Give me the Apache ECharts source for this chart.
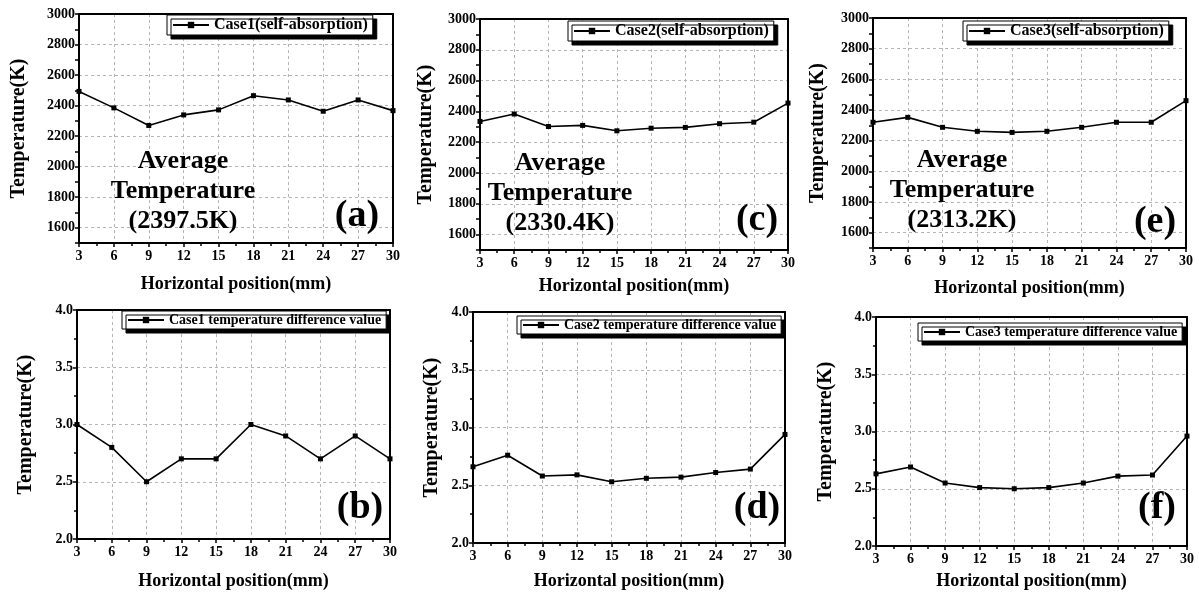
<!DOCTYPE html>
<html><head><meta charset="utf-8">
<script src="https://cdn.jsdelivr.net/npm/echarts@6/dist/echarts.min.js"></script>
<style>html,body{margin:0;padding:0;background:#fff}#c{width:1199px;height:595px}</style>
</head><body><div id="c"></div>
<script>
// ---- data ----
const positions = [3, 6, 9, 12, 15, 18, 21, 24, 27, 30];
const case1Temp = [2493, 2385, 2270, 2339, 2372, 2465, 2437, 2363, 2437, 2367];
const case2Temp = [2335, 2383, 2302, 2309, 2274, 2291, 2296, 2320, 2330, 2454];
const case3Temp = [2320, 2352, 2287, 2261, 2254, 2261, 2287, 2320, 2320, 2461];
const case1Diff = [3.0, 2.8, 2.5, 2.7, 2.7, 3.0, 2.9, 2.7, 2.9, 2.7];
const case2Diff = [2.66, 2.76, 2.58, 2.59, 2.53, 2.56, 2.57, 2.61, 2.64, 2.94];
const case3Diff = [2.63, 2.69, 2.55, 2.51, 2.50, 2.51, 2.55, 2.61, 2.62, 2.96];
const tempTickLabels = [1600, 1800, 2000, 2200, 2400, 2600, 2800, 3000];
const diffTickLabels = [2.0, 2.5, 3.0, 3.5, 4.0];
const seriesNames = ['Case1(self-absorption)', 'Case2(self-absorption)', 'Case3(self-absorption)',
  'Case1 temperature difference value', 'Case2 temperature difference value', 'Case3 temperature difference value'];
const averages = ['2397.5K', '2330.4K', '2313.2K'];
const panelTags = ['(a)', '(c)', '(e)', '(b)', '(d)', '(f)'];
const xName = 'Horizontal position(mm)';
const yName = 'Temperature(K)';

// ---- layout ----
const FF = '"Liberation Serif", "DejaVu Serif", serif';
const panels = [
  {values: case1Temp, kind: 'temp', grid: {left: 79, top: 14, width: 314, height: 229}, xGap: 32, yGap: 50,
   legend: {left: 167, top: 15}, legendFont: 16, tag: {x: 357, y: 216}, avg: {x: 183, y: 191}},
  {values: case2Temp, kind: 'temp', grid: {left: 480, top: 19, width: 308, height: 231}, xGap: 27, yGap: 44,
   legend: {left: 568, top: 21}, legendFont: 16, tag: {x: 757, y: 220}, avg: {x: 560, y: 193}},
  {values: case3Temp, kind: 'temp', grid: {left: 873, top: 18, width: 313, height: 230}, xGap: 31, yGap: 45,
   legend: {left: 963, top: 21}, legendFont: 16, tag: {x: 1155, y: 222}, avg: {x: 962, y: 190}},
  {values: case1Diff, kind: 'diff', grid: {left: 77, top: 310, width: 313, height: 229}, xGap: 33, yGap: 41,
   legend: {left: 122, top: 311}, legendFont: 14, tag: {x: 360, y: 508}},
  {values: case2Diff, kind: 'diff', grid: {left: 473, top: 312, width: 312, height: 231}, xGap: 29, yGap: 31,
   legend: {left: 517, top: 316}, legendFont: 14, tag: {x: 757, y: 508}},
  {values: case3Diff, kind: 'diff', grid: {left: 876, top: 317, width: 311, height: 229}, xGap: 26, yGap: 40,
   legend: {left: 918, top: 323}, legendFont: 14, tag: {x: 1157, y: 508}}
];

const grids = [], xAxes = [], yAxes = [], series = [], legends = [], graphics = [];
const gridLine = {show: true, lineStyle: {type: [3, 3], color: '#b5b5b5', width: 1}};
const frameAxis = (extra) => Object.assign({
  type: 'value', axisLine: {show: true, onZero: false, lineStyle: {color: '#000', width: 2}},
  axisTick: {show: false}, axisLabel: {show: false}, splitLine: {show: false}, z: 5
}, extra);
panels.forEach((p, i) => {
  grids.push(Object.assign({show: false}, p.grid));
  xAxes.push({
    type: 'value', gridIndex: i, min: 3, max: 30, interval: 3,
    name: xName, nameLocation: 'middle', nameGap: p.xGap,
    nameTextStyle: {fontFamily: FF, fontWeight: 'bold', fontSize: 18, color: '#000'},
    axisLine: {show: true, onZero: false, lineStyle: {color: '#000', width: 2}},
    axisTick: {show: true, inside: false, length: 4, lineStyle: {color: '#000', width: 1.5}},
    minorTick: {show: true, splitNumber: 2, length: 3, lineStyle: {color: '#000', width: 1.5}},
    axisLabel: {fontFamily: FF, fontWeight: 'bold', fontSize: 14, color: '#000', margin: 6},
    splitLine: gridLine
  });
  if (p.kind === 'temp') {
    yAxes.push({
      type: 'value', gridIndex: i, min: 1500, max: 3000, interval: 100,
      name: yName, nameLocation: 'middle', nameGap: p.yGap,
      nameTextStyle: {fontFamily: FF, fontWeight: 'bold', fontSize: 20, color: '#000'},
      axisLine: {show: true, lineStyle: {color: '#000', width: 2}},
      axisTick: {show: true, length: 4, lineStyle: {color: '#000', width: 1.5}},
      axisLabel: {fontFamily: FF, fontWeight: 'bold', fontSize: 14, color: '#000', margin: 4,
        formatter: v => tempTickLabels.includes(v) ? String(v) : ''},
      splitLine: {show: true, lineStyle: {type: [3, 3], color: ['rgba(0,0,0,0)', '#b5b5b5'], width: 1}}
    });
    yAxes.push(frameAxis({gridIndex: i, position: 'right', min: 1500, max: 3000}));
  } else {
    yAxes.push({
      type: 'value', gridIndex: i, min: 2, max: 4, interval: 0.5,
      name: yName, nameLocation: 'middle', nameGap: p.yGap,
      nameTextStyle: {fontFamily: FF, fontWeight: 'bold', fontSize: 20, color: '#000'},
      axisLine: {show: true, lineStyle: {color: '#000', width: 2}},
      axisTick: {show: true, length: 4, lineStyle: {color: '#000', width: 1.5}},
      minorTick: {show: true, splitNumber: 2, length: 3, lineStyle: {color: '#000', width: 1.5}},
      axisLabel: {fontFamily: FF, fontWeight: 'bold', fontSize: 14, color: '#000', margin: 4,
        formatter: v => diffTickLabels.includes(v) ? v.toFixed(1) : ''},
      splitLine: gridLine
    });
    yAxes.push(frameAxis({gridIndex: i, position: 'right', min: 2, max: 4}));
  }
  xAxes.push(frameAxis({gridIndex: i, position: 'top', min: 3, max: 30}));
  series.push({
    name: seriesNames[i], type: 'line', xAxisIndex: 2 * i, yAxisIndex: 2 * i,
    data: positions.map((x, k) => [x, p.values[k]]),
    symbol: 'rect', symbolSize: 5, showSymbol: true,
    lineStyle: {color: '#000', width: 1.6}, itemStyle: {color: '#000'},
    animation: false, clip: false, z: 6
  });
  legends.push({
    data: [seriesNames[i]], left: p.legend.left, top: p.legend.top,
    orient: 'horizontal', itemWidth: 36, itemHeight: 8, itemGap: 4,
    padding: [2, 5, 2, 5], backgroundColor: '#fff', borderColor: '#000', borderWidth: 1,
    shadowColor: '#000', shadowBlur: 0, shadowOffsetX: 4, shadowOffsetY: 4,
    textStyle: {fontFamily: FF, fontWeight: 'bold', fontSize: p.legendFont, color: '#000'},
    selectedMode: false
  });
  graphics.push({
    type: 'text', x: p.tag.x, y: p.tag.y, z: 10,
    style: {text: panelTags[i], fontFamily: FF, fontWeight: 'bold', fontSize: 38, fill: '#000',
      align: 'center', verticalAlign: 'middle'}
  });
  if (p.avg) {
    graphics.push({
      type: 'text', x: p.avg.x, y: p.avg.y, z: 10,
      style: {text: 'Average\nTemperature\n(' + averages[i] + ')', fontFamily: FF, fontWeight: 'bold',
        fontSize: 26, lineHeight: 30, fill: '#000', align: 'center', verticalAlign: 'middle'}
    });
  }
});

const chart = echarts.init(document.getElementById('c'), null, {renderer: 'canvas'});
chart.setOption({
  animation: false, backgroundColor: '#fff',
  grid: grids, xAxis: xAxes, yAxis: yAxes, series: series, legend: legends, graphic: graphics
});
</script></body></html>
